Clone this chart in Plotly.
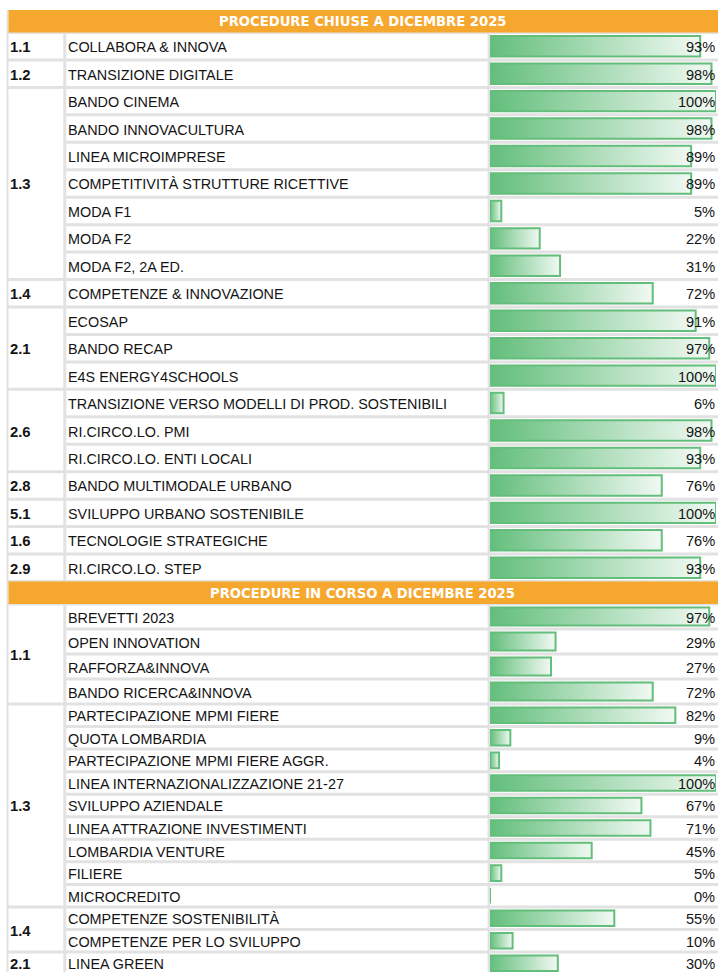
import plotly.graph_objects as go

# ---------------- DATA ----------------
closed_header = "PROCEDURE CHIUSE A DICEMBRE 2025"
closed_codes = ["1.1", "1.2", "1.3", "1.3", "1.3", "1.3", "1.3", "1.3", "1.3", "1.4",
                "2.1", "2.1", "2.1", "2.6", "2.6", "2.6", "2.8", "5.1", "1.6", "2.9"]
closed_names = ["COLLABORA & INNOVA", "TRANSIZIONE DIGITALE", "BANDO CINEMA",
                "BANDO INNOVACULTURA", "LINEA MICROIMPRESE",
                "COMPETITIVITÀ STRUTTURE RICETTIVE", "MODA F1", "MODA F2",
                "MODA F2, 2A ED.", "COMPETENZE & INNOVAZIONE", "ECOSAP", "BANDO RECAP",
                "E4S ENERGY4SCHOOLS", "TRANSIZIONE VERSO MODELLI DI PROD. SOSTENIBILI",
                "RI.CIRCO.LO. PMI", "RI.CIRCO.LO. ENTI LOCALI", "BANDO MULTIMODALE URBANO",
                "SVILUPPO URBANO SOSTENIBILE", "TECNOLOGIE STRATEGICHE", "RI.CIRCO.LO. STEP"]
closed_pct = [93, 98, 100, 98, 89, 89, 5, 22, 31, 72, 91, 97, 100, 6, 98, 93, 76, 100, 76, 93]

open_header = "PROCEDURE IN CORSO A DICEMBRE 2025"
open_codes = ["1.1", "1.1", "1.1", "1.1", "1.3", "1.3", "1.3", "1.3", "1.3", "1.3",
              "1.3", "1.3", "1.3", "1.4", "1.4", "2.1"]
open_names = ["BREVETTI 2023", "OPEN INNOVATION", "RAFFORZA&INNOVA", "BANDO RICERCA&INNOVA",
              "PARTECIPAZIONE MPMI FIERE", "QUOTA LOMBARDIA", "PARTECIPAZIONE MPMI FIERE AGGR.",
              "LINEA INTERNAZIONALIZZAZIONE 21-27", "SVILUPPO AZIENDALE",
              "LINEA ATTRAZIONE INVESTIMENTI", "LOMBARDIA VENTURE", "FILIERE", "MICROCREDITO",
              "COMPETENZE SOSTENIBILITÀ", "COMPETENZE PER LO SVILUPPO", "LINEA GREEN"]
open_pct = [97, 29, 27, 72, 82, 9, 4, 100, 67, 71, 45, 5, 0, 55, 10, 30]

# ---------------- LAYOUT / STYLE ----------------
W, H = 718, 972
TOP = 10
HEAD_H = 22.5
closed_row_h = [27.45] * len(closed_names)
open_row_h = [25.0] * 4 + [22.55] * (len(open_names) - 4)

X_LEFT = 7.5        # left table border
X_SEP1 = 64.8       # code | name separator
X_SEP2 = 488.8      # name | bar separator
X_BAR0 = 490        # 0 % position
X_BAR1 = 716        # 100 % position
X_CODE = 8
X_NAME = 66

ORANGE = "#F6A72D"
GRID = "#E2E2E2"
GREEN = "#63BE7B"
LIGHT = "#F1F9F3"
TEXT = "#141414"
FONT = "Liberation Sans, Arial, sans-serif"
HEAD_FONT = "DejaVu Sans, sans-serif"
BAR_INSET = 3.5

sections = [
    (closed_header, closed_codes, closed_names, closed_pct, closed_row_h),
    (open_header, open_codes, open_names, open_pct, open_row_h),
]

fig = go.Figure()
shapes = []
annotations = []
headers = []

y = TOP
for header, codes, names, pct, heights in sections:
    h0, h1 = y, y + HEAD_H
    headers.append((header, h0, h1))
    y = h1
    sec_top = y
    shapes.append(dict(type="line", xref="x", yref="y", x0=X_LEFT, x1=W, y0=sec_top, y1=sec_top,
                       line=dict(color=GRID, width=3), layer="below"))
    tops = []
    for rh in heights:
        tops.append(y)
        y += rh
    bottoms = [t + rh for t, rh in zip(tops, heights)]
    sec_bot = y
    for i, b in enumerate(bottoms):
        last_in_group = (i == len(codes) - 1) or (codes[i + 1] != codes[i])
        x0 = X_LEFT if last_in_group else X_SEP1
        shapes.append(dict(type="line", xref="x", yref="y", x0=x0, x1=W, y0=b, y1=b,
                           line=dict(color=GRID, width=3), layer="below"))
    for xs, wd in ((X_SEP1, 3), (X_SEP2, 2.5)):
        shapes.append(dict(type="line", xref="x", yref="y", x0=xs, x1=xs, y0=sec_top, y1=sec_bot,
                           line=dict(color=GRID, width=wd), layer="below"))
    i = 0
    while i < len(codes):
        j = i
        while j + 1 < len(codes) and codes[j + 1] == codes[i]:
            j += 1
        yc = (tops[i] + bottoms[j]) / 2
        annotations.append(dict(x=X_CODE, y=yc, xref="x", yref="y", text=f"<b>{codes[i]}</b>",
                                showarrow=False, xanchor="left", yanchor="middle", yshift=-1,
                                font=dict(family=FONT, size=14.8, color=TEXT)))
        i = j + 1
    for name, v, t, b in zip(names, pct, tops, bottoms):
        yc = (t + b) / 2
        annotations.append(dict(x=X_NAME, y=yc, xref="x", yref="y", text=name, showarrow=False,
                                xanchor="left", yanchor="middle", yshift=-1,
                                font=dict(family=FONT, size=14.4, color=TEXT)))
        annotations.append(dict(x=100, y=yc, xref="x2", yref="y", text=f"{v}%", showarrow=False,
                                xanchor="right", yanchor="middle", yshift=-1, xshift=1,
                                font=dict(family=FONT, size=14.6, color=TEXT)))
        yt, yb = t + BAR_INSET, b - BAR_INSET
        fig.add_trace(go.Scatter(
            x=[0, v, v, 0, 0], y=[yt, yt, yb, yb, yt], xaxis="x2", yaxis="y",
            mode="lines", fill="toself",
            fillgradient=dict(type="horizontal", colorscale=[[0, GREEN], [1, LIGHT]]),
            line=dict(color=GREEN, width=2), hoverinfo="skip", showlegend=False))

shapes.append(dict(type="line", xref="x", yref="y", x0=X_LEFT, x1=X_LEFT, y0=TOP, y1=H + 5,
                   line=dict(color=GRID, width=2), layer="below"))
for header, h0, h1 in headers:
    shapes.append(dict(type="rect", xref="x", yref="y", x0=X_LEFT + 1, x1=W + 2, y0=h0, y1=h1,
                       fillcolor=ORANGE, line=dict(width=0), layer="below"))
    annotations.append(dict(x=(X_LEFT + W) / 2, y=(h0 + h1) / 2, xref="x", yref="y",
                            text=f"<b>{header}</b>", showarrow=False, xanchor="center",
                            yanchor="middle", yshift=-0.5,
                            font=dict(family=HEAD_FONT, size=13.2, color="white")))

fig.update_layout(
    width=W, height=H, autosize=False,
    margin=dict(l=0, r=0, t=0, b=0, pad=0),
    paper_bgcolor="white", plot_bgcolor="rgba(0,0,0,0)",
    xaxis=dict(range=[0, W], visible=False, fixedrange=True, domain=[0, 1], anchor="y"),
    xaxis2=dict(range=[0, 100], visible=False, fixedrange=True, anchor="y",
                domain=[X_BAR0 / W, X_BAR1 / W]),
    yaxis=dict(range=[H, 0], visible=False, fixedrange=True, domain=[0, 1], anchor="x"),
    shapes=shapes, annotations=annotations, showlegend=False,
)

fig.write_html("out.html", config={"displayModeBar": False},
               post_script="document.body.style.margin='0';document.body.style.overflow='hidden';")
